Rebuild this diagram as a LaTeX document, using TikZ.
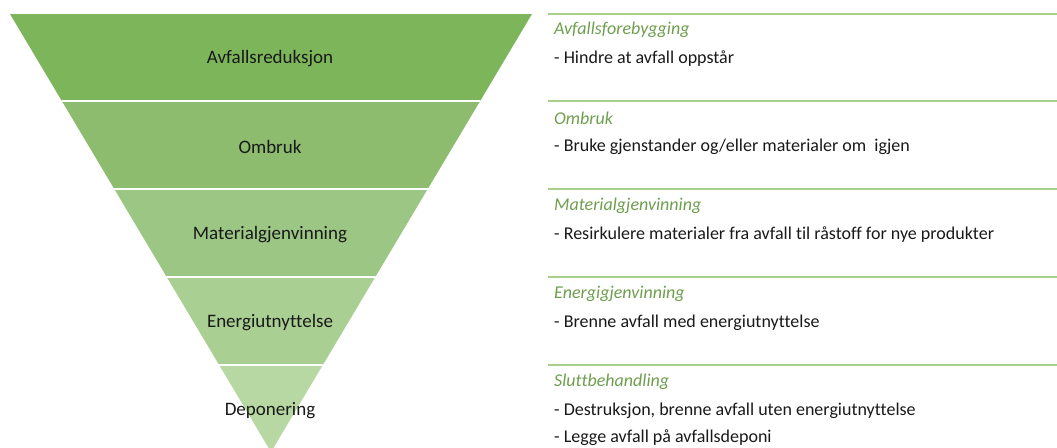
\documentclass[tikz,border=0pt]{standalone}
\usepackage{fontspec}
\setmainfont{Carlito}[Ligatures={NoCommon,NoRare}]
\definecolor{bandA}{HTML}{7DB55A}
\definecolor{bandB}{HTML}{8DBC6E}
\definecolor{bandC}{HTML}{9CC683}
\definecolor{bandD}{HTML}{AACF92}
\definecolor{bandE}{HTML}{B8D8A3}
\definecolor{rulegreen}{HTML}{A8D08D}
\definecolor{headgreen}{HTML}{6E9E4E}
\tikzset{
  bandlabel/.style={font=\fontsize{19}{21}\selectfont, text=black!90, inner sep=0pt},
  headtext/.style={font=\fontsize{18}{20}\selectfont\itshape, text=headgreen, anchor=west, inner sep=0pt},
  bodytext/.style={font=\fontsize{18}{20}\selectfont, text=black!90, anchor=west, inner sep=0pt},
  rule/.style={draw=rulegreen, line width=1.6pt}
}
\begin{document}
\begin{tikzpicture}[x=1pt,y=-1pt]
\useasboundingbox (0,0) rectangle (1057,447);
\begin{scope}
  \clip (10,14) -- (532,14) -- (271,452) -- cycle;
  \fill[bandA] (0,14) rectangle (560,101);
  \fill[bandB] (0,101) rectangle (560,189);
  \fill[bandC] (0,189) rectangle (560,277);
  \fill[bandD] (0,277) rectangle (560,365);
  \fill[bandE] (0,365) rectangle (560,460);
  \foreach \yy in {101,189,277,365} \draw[white, line width=2pt] (0,\yy) -- (560,\yy);
\end{scope}
\node[bandlabel] (l1) at (270,59) {Avfallsreduksjon};
\node[bandlabel] (l2) at (270,147) {Ombruk};
\node[bandlabel] (l3) at (270,235) {Materialgjenvinning};
\node[bandlabel] (l4) at (270,323) {Energiutnyttelse};
\node[bandlabel] (l5) at (270,411) {Deponering};
\foreach \yy in {14,101,189,277,365} \draw[rule] (548,\yy) -- (1057,\yy);
\node[headtext] (h1) at (554,30) {Avfallsforebygging};
\node[bodytext] (b1) at (554,58.5) {- Hindre at avfall oppstår};
\node[headtext] (h2) at (554,118) {Ombruk};
\node[bodytext] (b2) at (554,146.5) {- Bruke gjenstander og/eller materialer om\ \ igjen};
\node[headtext] (h3) at (554,206) {Materialgjenvinning};
\node[bodytext] (b3) at (554,234.5) {- Resirkulere materialer fra avfall til råstoff for nye produkter};
\node[headtext] (h4) at (554,294) {Energigjenvinning};
\node[bodytext] (b4) at (554,322.5) {- Brenne avfall med energiutnyttelse};
\node[headtext] (h5) at (554,382) {Sluttbehandling};
\node[bodytext] (b5) at (554,410.5) {- Destruksjon, brenne avfall uten energiutnyttelse};
\node[bodytext] (b6) at (554,437.5) {- Legge avfall på avfallsdeponi};
\end{tikzpicture}
\end{document}
